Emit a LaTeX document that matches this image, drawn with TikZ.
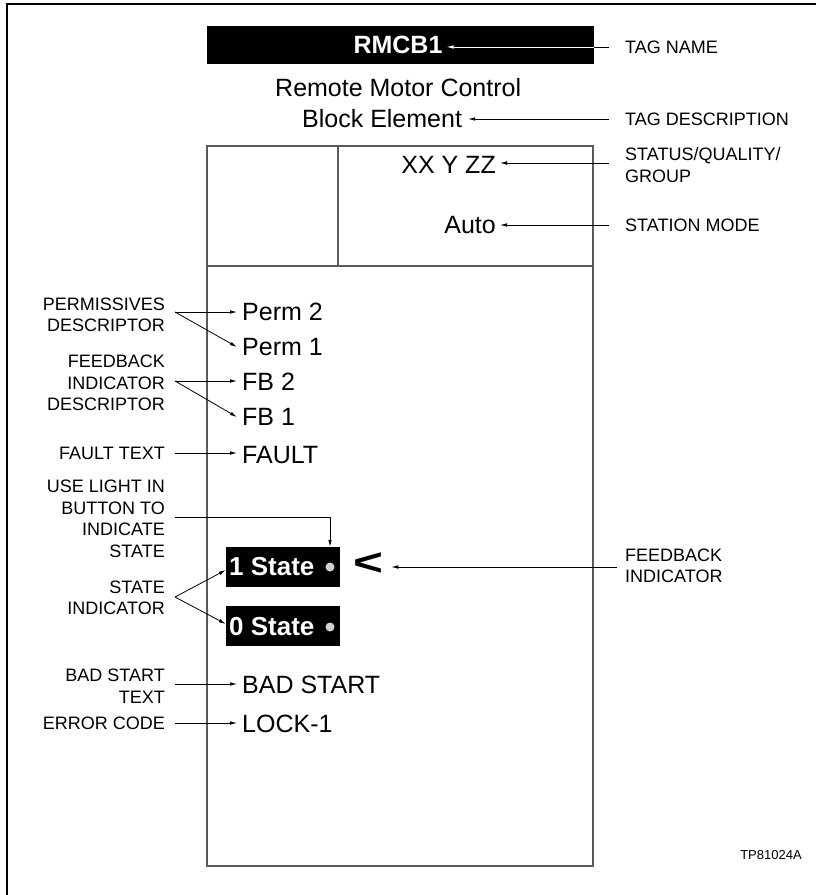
\documentclass[tikz,border=0pt]{standalone}
\usepackage{fontspec}
\setmainfont{Liberation Sans}
\usetikzlibrary{arrows.meta}
\begin{document}
\begin{tikzpicture}[x=1pt,y=-1pt,
  lbl/.style={font=\fontsize{18}{21.5}\selectfont, inner sep=0pt},
  llbl/.style={lbl, align=right, anchor=east},
  rlbl/.style={lbl, align=left, anchor=west},
  big/.style={font=\fontsize{25}{30}\selectfont, inner sep=0pt},
  btnbox/.style={fill=black, draw=none, minimum width=114pt, minimum height=40pt, inner sep=0pt},
  btntxt/.style={font=\bfseries\fontsize{26}{30}\selectfont, text=white, inner sep=0pt, anchor=west},
  lamp/.style={circle, fill=black!18, draw=none, minimum size=9pt, inner sep=0pt},
  arr/.style={-{Latex[length=7pt,width=3.6pt]}, line width=0.8pt},
  frame/.style={line width=1.3pt},
  panel/.style={draw=black!65, line width=1.3pt}
]
\useasboundingbox (0,0) rectangle (816,895);
% outer frame (top and left edges)
\draw[frame] (816,4) -- (7,4) -- (7,895);

% tag name bar
\node[fill=black, minimum width=387pt, minimum height=38pt, inner sep=0pt] (bar) at (400.5,45) {};
\node[font=\bfseries\fontsize{25}{30}\selectfont, text=white, inner sep=0pt] (tag) at (398,45) {RMCB1};
\node[rlbl] (tagname) at (625,47) {TAG NAME};
\draw[arr] ([xshift=-16pt]tagname.west) -- ([xshift=4pt]tag.east |- tagname.west);
\begin{scope}
  \clip (bar.north west) rectangle (bar.south east);
  \draw[arr, white] ([xshift=-16pt]tagname.west) -- ([xshift=4pt]tag.east |- tagname.west);
\end{scope}

% description
\node[big, anchor=west] (desc1) at (275,88) {Remote Motor Control};
\node[big, anchor=west] (desc2) at (302,119) {Block Element};
\node[rlbl] (tagdesc) at (625,119) {TAG DESCRIPTION};
\draw[arr] ([xshift=-16pt]tagdesc.west) -- ([xshift=6pt]desc2.east |- tagdesc.west);

% main panel
\draw[panel] (207,146) rectangle (593,866);
\draw[panel] (207,266) -- (593,266);
\draw[panel] (338,146) -- (338,266);

% status / mode
\node[big, anchor=east] (status) at (496,165) {XX Y ZZ};
\node[rlbl] (statlbl) at (625,165) {STATUS/QUALITY/\\GROUP};
\coordinate (stattail) at (609,163);
\draw[arr] (stattail) -- ([xshift=4pt]status.east |- stattail);
\node[big, anchor=east] (mode) at (496,225) {Auto};
\node[rlbl] (modelbl) at (625,225) {STATION MODE};
\draw[arr] ([xshift=-16pt]modelbl.west) -- ([xshift=4pt]mode.east);

% permissives
\node[big, anchor=west] (perm2) at (242,312) {Perm 2};
\node[big, anchor=west] (perm1) at (242,347) {Perm 1};
\node[llbl] (permlbl) at (165,315) {PERMISSIVES\\DESCRIPTOR};
\coordinate (permtail) at (175,312);
\draw[arr] (permtail) -- ([xshift=-5pt]perm2.west);
\draw[arr] (permtail) -- ([xshift=-5pt]perm1.west);

% feedback descriptors
\node[big, anchor=west] (fb2) at (242,382) {FB 2};
\node[big, anchor=west] (fb1) at (242,417) {FB 1};
\node[llbl] (fblbl) at (165,383) {FEEDBACK\\INDICATOR\\DESCRIPTOR};
\coordinate (fbtail) at (175,381);
\draw[arr] (fbtail) -- ([xshift=-5pt]fb2.west |- fbtail);
\draw[arr] (fbtail) -- ([xshift=-5pt]fb1.west);

% fault
\node[big, anchor=west] (fault) at (242,455) {FAULT};
\node[llbl] (faultlbl) at (165,453) {FAULT TEXT};
\draw[arr] ([xshift=10pt]faultlbl.east) -- ([xshift=-5pt]fault.west |- faultlbl.east);

% state buttons
\node[btnbox] (s1) at (283,567) {};
\node[btntxt] (s1t) at (229,567) {1 State};
\node[lamp] (l1) at (330,567) {};
\node[btnbox] (s0) at (283,626) {};
\node[btntxt] (s0t) at (229,627) {0 State};
\node[lamp] (l0) at (330,627) {};

\node[llbl] (uselbl) at (165,519) {USE LIGHT IN\\BUTTON TO\\INDICATE\\STATE};
\coordinate (usetail) at (175,517);
\draw[arr] (usetail) -| (l1 |- s1.north);

\node[llbl] (statelbl) at (165,598) {STATE\\INDICATOR};
\coordinate (statetail) at (175,597);
\draw[arr] (statetail) -- ([yshift=-3pt]s1.west);
\draw[arr] (statetail) -- ([yshift=2pt]s0.west);

% feedback indicator chevron
\node[font=\bfseries\fontsize{38}{38}\selectfont, inner sep=0pt, xscale=1.35] (chev) at (368,564) {<};
\node[rlbl] (fbind) at (625,566) {FEEDBACK\\INDICATOR};
\coordinate (fbindtail) at (617,567);
\draw[arr] (fbindtail) -- ([xshift=8pt]chev.east |- fbindtail);

% bad start / error code
\node[big, anchor=west] (bad) at (242,685) {BAD START};
\node[llbl] (badlbl) at (165,686) {BAD START\\TEXT};
\coordinate (badtail) at (175,684);
\draw[arr] (badtail) -- ([xshift=-5pt]bad.west |- badtail);
\node[big, anchor=west] (lock) at (242,724) {LOCK-1};
\node[llbl] (errlbl) at (165,723) {ERROR CODE};
\draw[arr] ([xshift=10pt]errlbl.east) -- ([xshift=-5pt]lock.west |- errlbl.east);

% drawing number
\node[font=\fontsize{13}{15}\selectfont, inner sep=0pt] (tp) at (771,855) {TP81024A};
\end{tikzpicture}
\end{document}
